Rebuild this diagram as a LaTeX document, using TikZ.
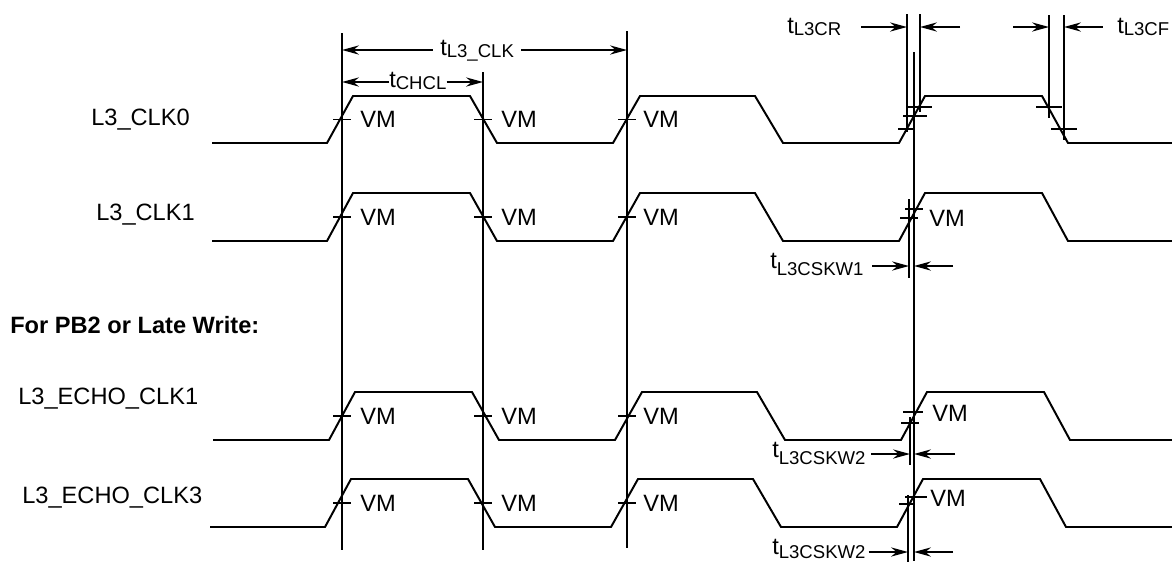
\documentclass[tikz,border=0pt]{standalone}
\usepackage{fontspec}
\setmainfont{Liberation Sans}
\usetikzlibrary{arrows.meta}

\newcommand{\subsz}{\fontsize{13.2}{15}\selectfont}
\newcommand{\tsub}[2][1.5pt]{t\raisebox{-#1}{\subsz #2}}

\tikzset{
	wave/.style={line width=1.4pt, line join=miter},
	guide/.style={line width=1.4pt},
	tickmark/.style={line width=1pt},
	dimarrow/.style={line width=1.3pt, -{Stealth[length=12pt,width=6.5pt]}},
	lbl/.style={inner sep=0pt, font=\fontsize{16.8}{20}\selectfont},
	vm/.style={lbl, anchor=west},
}

\begin{document}
\begin{tikzpicture}[x=0.025cm, y=-0.025cm]
	\useasboundingbox (0,0) rectangle (1172,561);

	\node[lbl, anchor=base west] (clk0) at (91,125.5) {L3\_CLK0};
	\node[lbl, anchor=base west] (clk1) at (96,220) {L3\_CLK1};
	\node[lbl, anchor=base west, font=\fontsize{16.8}{20}\selectfont\bfseries] (pb2) at (10,333) {For PB2 or Late Write:};
	\node[lbl, anchor=base west] (echo1) at (18,404) {L3\_ECHO\_CLK1};
	\node[lbl, anchor=base west] (echo3) at (22,503) {L3\_ECHO\_CLK3};

	\foreach \lo/\hi/\dx/\s in {143/96/0/212, 241/193/0/212, 440/392/2/213, 527/479/-2/210}
		\draw[wave] (\s,\lo) -- (327+\dx,\lo) -- (353+\dx,\hi) -- (470+\dx,\hi) -- (497+\dx,\lo)
			-- (613+\dx,\lo) -- (640+\dx,\hi) -- (755+\dx,\hi) -- (783+\dx,\lo)
			-- (899+\dx,\lo) -- (925+\dx,\hi) -- (1042+\dx,\hi) -- (1068+\dx,\lo) -- (1172,\lo);

	\coordinate (r1top) at (342,33);
	\coordinate (f1top) at (483,72);
	\coordinate (r2top) at (627,31);
	\coordinate (sktop) at (914,52);
	\draw[guide] (r1top) -- (342,550);
	\draw[guide] (f1top) -- (483,550);
	\draw[guide] (r2top) -- (627,548);
	\draw[guide] (sktop) -- (914,561);

	\foreach \m/\r in {119.5/a, 217/b, 416/c, 503/d}
		\foreach \x/\v in {342/360, 483/501, 627/643} {
			\draw[tickmark] (\x-9,\m) -- (\x+9,\m);
			\node[vm] (vm\r\x) at (\v,\m) {VM};
		}
	\node[vm] (vmb4) at (929,218) {VM};
	\node[vm] (vmc4) at (932,413) {VM};
	\node[vm] (vmd4) at (930,498) {VM};

	\draw[guide] (907,14) -- (907,132);
	\draw[guide] (920,14) -- (920,112);
	\draw[tickmark] (906,107) -- (932,107);
	\draw[tickmark] (903,116) -- (927,116);
	\draw[tickmark] (898,129) -- (915,129);
	\draw[guide] (1049,15) -- (1049,118);
	\draw[guide] (1064,15) -- (1064,140);
	\draw[tickmark] (1036,107) -- (1062,107);
	\draw[tickmark] (1051,129) -- (1077,129);

	\draw[guide] (909,199) -- (909,278);
	\draw[tickmark] (905,209) -- (923,209);
	\draw[tickmark] (900,218) -- (918,218);
	\draw[guide] (910,417) -- (910,465);
	\draw[tickmark] (903,412) -- (923,412);
	\draw[tickmark] (901,423) -- (919,423);
	\draw[guide] (908,495) -- (908,570);
	\draw[tickmark] (905,497) -- (927,497);
	\draw[tickmark] (899,504) -- (915,504);

	\node[lbl, anchor=base west] (tclk) at (440,55) {\tsub{L3\_CLK}};
	\coordinate (clkA) at (342,50);
	\coordinate (clkB) at (627,50);
	\draw[dimarrow, shorten <=5pt] (tclk.west |- clkA) -- (clkA);
	\draw[dimarrow, shorten <=5pt] (tclk.east |- clkB) -- (clkB);

	\node[lbl, anchor=base west] (tchcl) at (389,87) {\tsub[2pt]{CHCL}};
	\coordinate (chA) at (342,82);
	\coordinate (chB) at (483,82);
	\draw[dimarrow] (tchcl.west |- chA) -- (chA);
	\draw[dimarrow] (tchcl.east |- chB) -- (chB);

	\node[lbl, anchor=base west] (tcr) at (787,33) {\tsub{L3CR}};
	\coordinate (crA) at (907,27);
	\coordinate (crB) at (920,27);
	\draw[dimarrow, shorten <=14pt] (tcr.east |- crA) -- (crA);
	\draw[dimarrow] (crB) ++(40,0) -- (crB);

	\node[lbl, anchor=base west] (tcf) at (1117,33) {\tsub{L3CF}};
	\coordinate (cfA) at (1049,27);
	\coordinate (cfB) at (1064,27);
	\draw[dimarrow] (cfA) ++(-36,0) -- (cfA);
	\draw[dimarrow, shorten <=10pt] (tcf.west |- cfB) -- (cfB);

	\node[lbl, anchor=base west] (tskw1) at (770,268) {\tsub[5pt]{L3CSKW1}};
	\coordinate (skA) at (909,266);
	\coordinate (skB) at (914,266);
	\draw[dimarrow, shorten <=6pt] (tskw1.east |- skA) -- (skA);
	\draw[dimarrow] (skB) ++(39,0) -- (skB);

	\node[lbl, anchor=base west] (tskw2) at (772,457) {\tsub[5pt]{L3CSKW2}};
	\coordinate (sk2A) at (910,454);
	\coordinate (sk2B) at (914,454);
	\draw[dimarrow, shorten <=4pt] (tskw2.east |- sk2A) -- (sk2A);
	\draw[dimarrow] (sk2B) ++(41,0) -- (sk2B);

	\node[lbl, anchor=base west] (tskw3) at (772,554) {\tsub[3pt]{L3CSKW2}};
	\coordinate (sk3A) at (908,552);
	\coordinate (sk3B) at (914,552);
	\draw[dimarrow, shorten <=2pt] (tskw3.east |- sk3A) -- (sk3A);
	\draw[dimarrow] (sk3B) ++(39,0) -- (sk3B);
\end{tikzpicture}
\end{document}
